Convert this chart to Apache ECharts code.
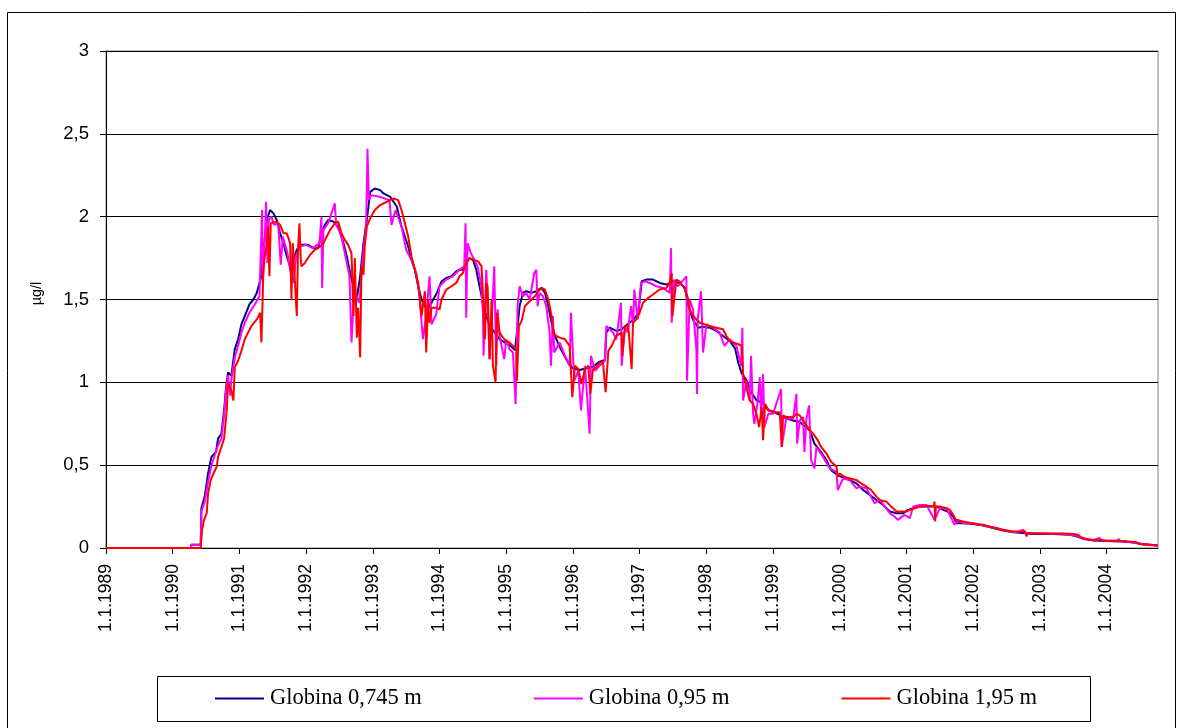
<!DOCTYPE html>
<html>
<head>
<meta charset="utf-8">
<script src="https://cdn.jsdelivr.net/npm/echarts@6/dist/echarts.min.js"></script>
<style>
html,body{margin:0;padding:0;background:#fff;}
#chart{width:1183px;height:728px;}
</style>
</head>
<body>
<div id="chart"></div>
<script>
// Series names
const seriesNames = ['Globina 0,745 m', 'Globina 0,95 m', 'Globina 1,95 m'];
// x ticks (years), labels shown as "1.1.YYYY"
const yearTicks = [1989,1990,1991,1992,1993,1994,1995,1996,1997,1998,1999,2000,2001,2002,2003,2004];
// y tick labels
const yTicks = [0, 0.5, 1, 1.5, 2, 2.5, 3];

// [decimal year, µg/l]
const depth0745 = [
[1989.00,0],[1990.27,0],[1990.28,0.02],[1990.42,0.02],[1990.43,0.24],[1990.48,0.31],[1990.53,0.45],[1990.58,0.55],[1990.65,0.58],[1990.68,0.66],[1990.73,0.69],[1990.77,0.83],[1990.80,0.97],[1990.83,1.06],[1990.88,1.04],[1990.93,1.20],[1990.98,1.26],[1991.03,1.35],[1991.08,1.40],[1991.15,1.47],[1991.21,1.50],[1991.26,1.54],[1991.33,1.64],[1991.36,1.80],[1991.41,1.98],[1991.46,2.04],[1991.51,2.02],[1991.56,1.98],[1991.61,1.90],[1991.66,1.84],[1991.71,1.76],[1991.76,1.70],[1991.81,1.74],[1991.86,1.80],[1991.91,1.83],[1992.03,1.83],[1992.11,1.81],[1992.18,1.81],[1992.23,1.90],[1992.28,1.95],[1992.33,1.98],[1992.41,1.97],[1992.48,1.94],[1992.56,1.84],[1992.61,1.76],[1992.66,1.66],[1992.71,1.58],[1992.75,1.48],[1992.81,1.64],[1992.86,1.84],[1992.91,1.98],[1992.96,2.15],[1993.03,2.17],[1993.11,2.16],[1993.16,2.14],[1993.26,2.12],[1993.36,2.06],[1993.43,1.94],[1993.48,1.88],[1993.53,1.82],[1993.58,1.74],[1993.63,1.68],[1993.68,1.58],[1993.73,1.50],[1993.81,1.44],[1993.88,1.48],[1993.96,1.54],[1994.03,1.61],[1994.10,1.63],[1994.18,1.64],[1994.25,1.67],[1994.30,1.68],[1994.35,1.68],[1994.40,1.72],[1994.45,1.75],[1994.50,1.74],[1994.55,1.68],[1994.60,1.58],[1994.65,1.48],[1994.70,1.40],[1994.75,1.34],[1994.83,1.30],[1994.90,1.26],[1995.00,1.235],[1995.08,1.215],[1995.13,1.195],[1995.16,1.30],[1995.20,1.46],[1995.25,1.54],[1995.30,1.55],[1995.38,1.54],[1995.45,1.55],[1995.53,1.57],[1995.58,1.54],[1995.63,1.46],[1995.68,1.36],[1995.73,1.28],[1995.80,1.215],[1995.88,1.155],[1995.95,1.105],[1996.00,1.085],[1996.10,1.075],[1996.20,1.085],[1996.30,1.095],[1996.40,1.125],[1996.48,1.135],[1996.50,1.30],[1996.55,1.33],[1996.65,1.31],[1996.73,1.32],[1996.80,1.345],[1996.90,1.376],[1996.98,1.416],[1997.03,1.61],[1997.10,1.62],[1997.20,1.62],[1997.30,1.60],[1997.40,1.59],[1997.50,1.61],[1997.60,1.60],[1997.68,1.57],[1997.73,1.46],[1997.80,1.376],[1997.88,1.33],[1997.95,1.336],[1998.05,1.33],[1998.15,1.31],[1998.25,1.28],[1998.35,1.25],[1998.43,1.205],[1998.48,1.115],[1998.53,1.054],[1998.60,1.014],[1998.68,0.934],[1998.75,0.893],[1998.85,0.873],[1998.93,0.833],[1999.00,0.823],[1999.10,0.803],[1999.20,0.783],[1999.30,0.77],[1999.40,0.76],[1999.55,0.71],[1999.62,0.63],[1999.70,0.59],[1999.80,0.53],[1999.87,0.47],[1999.97,0.44],[2000.07,0.42],[2000.15,0.41],[2000.25,0.39],[2000.35,0.35],[2000.45,0.32],[2000.55,0.29],[2000.65,0.26],[2000.75,0.22],[2000.85,0.21],[2000.95,0.21],[2001.02,0.23],[2001.10,0.24],[2001.20,0.25],[2001.30,0.25],[2001.45,0.25],[2001.55,0.23],[2001.62,0.22],[2001.70,0.19],[2001.75,0.15],[2001.85,0.15],[2002.00,0.145],[2002.15,0.135],[2002.30,0.12],[2002.45,0.105],[2002.60,0.095],[2002.75,0.09],[2002.90,0.085],[2003.20,0.085],[2003.45,0.08],[2003.55,0.07],[2003.65,0.055],[2003.80,0.045],[2004.00,0.042],[2004.30,0.038],[2004.47,0.03],[2004.55,0.022],[2004.77,0.015]
];

const depth095 = [
[1989.00,0],[1990.27,0],[1990.28,0.02],[1990.42,0.02],[1990.43,0.22],[1990.48,0.28],[1990.53,0.40],[1990.58,0.50],[1990.63,0.56],[1990.68,0.62],[1990.73,0.66],[1990.77,0.80],[1990.80,0.95],[1990.83,1.04],[1990.86,0.92],[1990.88,1.02],[1990.93,1.15],[1990.98,1.22],[1991.03,1.30],[1991.08,1.36],[1991.15,1.42],[1991.23,1.47],[1991.30,1.52],[1991.34,2.04],[1991.35,1.60],[1991.38,1.85],[1991.40,2.09],[1991.42,1.72],[1991.44,1.98],[1991.48,2.00],[1991.52,1.95],[1991.58,1.96],[1991.62,1.71],[1991.65,1.88],[1991.72,1.78],[1991.76,1.68],[1991.81,1.60],[1991.85,1.76],[1991.90,1.82],[1992.00,1.83],[1992.10,1.81],[1992.20,1.84],[1992.23,2.00],[1992.24,1.57],[1992.26,1.92],[1992.33,1.96],[1992.43,2.08],[1992.45,1.95],[1992.52,1.90],[1992.58,1.78],[1992.65,1.64],[1992.68,1.24],[1992.72,1.56],[1992.80,1.48],[1992.85,1.76],[1992.90,1.95],[1992.92,2.41],[1992.94,2.10],[1992.98,2.13],[1993.10,2.12],[1993.25,2.10],[1993.28,1.95],[1993.34,2.04],[1993.43,1.94],[1993.50,1.80],[1993.60,1.72],[1993.65,1.66],[1993.70,1.52],[1993.75,1.26],[1993.80,1.40],[1993.85,1.64],[1993.88,1.35],[1993.95,1.41],[1994.00,1.58],[1994.10,1.62],[1994.20,1.64],[1994.30,1.68],[1994.37,1.70],[1994.39,1.96],[1994.40,1.39],[1994.42,1.84],[1994.47,1.78],[1994.52,1.74],[1994.57,1.70],[1994.62,1.60],[1994.65,1.42],[1994.66,1.16],[1994.70,1.68],[1994.72,1.50],[1994.75,1.14],[1994.79,1.44],[1994.82,1.70],[1994.85,1.10],[1994.87,1.44],[1994.90,1.28],[1994.97,1.14],[1995.00,1.26],[1995.05,1.20],[1995.10,1.18],[1995.14,0.87],[1995.17,1.46],[1995.20,1.58],[1995.25,1.52],[1995.30,1.54],[1995.35,1.50],[1995.42,1.66],[1995.45,1.68],[1995.47,1.46],[1995.50,1.54],[1995.55,1.52],[1995.60,1.46],[1995.65,1.30],[1995.67,1.10],[1995.70,1.40],[1995.72,1.18],[1995.80,1.24],[1995.88,1.16],[1995.95,1.10],[1995.97,1.42],[1996.02,1.01],[1996.08,1.07],[1996.12,0.83],[1996.18,1.10],[1996.25,0.69],[1996.27,1.16],[1996.33,1.07],[1996.40,1.10],[1996.48,1.13],[1996.50,1.34],[1996.55,1.32],[1996.60,1.30],[1996.65,1.26],[1996.72,1.48],[1996.73,1.10],[1996.78,1.34],[1996.82,1.30],[1996.87,1.46],[1996.90,1.34],[1996.92,1.56],[1996.97,1.38],[1997.02,1.60],[1997.08,1.61],[1997.15,1.60],[1997.25,1.58],[1997.35,1.57],[1997.45,1.54],[1997.47,1.81],[1997.48,1.36],[1997.52,1.62],[1997.57,1.58],[1997.62,1.60],[1997.70,1.64],[1997.71,1.01],[1997.75,1.50],[1997.80,1.44],[1997.85,1.20],[1997.86,0.93],[1997.87,1.38],[1997.92,1.55],[1997.95,1.18],[1998.00,1.35],[1998.10,1.33],[1998.20,1.30],[1998.27,1.22],[1998.35,1.26],[1998.45,1.22],[1998.52,1.10],[1998.54,1.33],[1998.55,0.89],[1998.60,1.01],[1998.65,0.89],[1998.67,1.16],[1998.70,0.81],[1998.72,0.75],[1998.77,0.89],[1998.80,1.03],[1998.82,0.81],[1998.85,1.05],[1998.87,0.73],[1998.93,0.81],[1999.00,0.81],[1999.12,0.96],[1999.13,0.61],[1999.20,0.79],[1999.25,0.78],[1999.30,0.78],[1999.35,0.93],[1999.36,0.63],[1999.40,0.77],[1999.45,0.79],[1999.47,0.58],[1999.50,0.78],[1999.54,0.86],[1999.57,0.53],[1999.62,0.48],[1999.65,0.61],[1999.75,0.55],[1999.85,0.48],[1999.95,0.46],[1999.97,0.35],[2000.05,0.42],[2000.15,0.41],[2000.25,0.36],[2000.30,0.37],[2000.40,0.36],[2000.52,0.27],[2000.60,0.29],[2000.75,0.21],[2000.82,0.19],[2000.87,0.17],[2000.97,0.20],[2001.05,0.18],[2001.10,0.25],[2001.20,0.26],[2001.30,0.26],[2001.42,0.17],[2001.50,0.24],[2001.60,0.24],[2001.72,0.14],[2001.77,0.17],[2001.85,0.15],[2002.00,0.15],[2002.10,0.14],[2002.30,0.125],[2002.45,0.11],[2002.55,0.10],[2002.65,0.095],[2002.75,0.11],[2002.78,0.09],[2003.10,0.087],[2003.35,0.085],[2003.55,0.075],[2003.62,0.06],[2003.80,0.048],[2003.90,0.06],[2003.92,0.046],[2004.15,0.044],[2004.18,0.055],[2004.20,0.042],[2004.47,0.03],[2004.55,0.02],[2004.77,0.015]
];

const depth195 = [
[1989.00,0],[1990.42,0],[1990.44,0.11],[1990.47,0.17],[1990.51,0.21],[1990.53,0.33],[1990.57,0.41],[1990.61,0.45],[1990.66,0.49],[1990.68,0.55],[1990.73,0.61],[1990.77,0.66],[1990.81,0.83],[1990.83,1.0],[1990.88,0.95],[1990.91,0.89],[1990.93,1.09],[1990.98,1.13],[1991.03,1.19],[1991.08,1.26],[1991.13,1.30],[1991.18,1.34],[1991.26,1.38],[1991.31,1.42],[1991.33,1.24],[1991.36,1.68],[1991.38,1.76],[1991.41,1.83],[1991.43,1.94],[1991.45,1.64],[1991.47,1.96],[1991.56,1.97],[1991.61,1.95],[1991.66,1.90],[1991.71,1.90],[1991.76,1.84],[1991.78,1.50],[1991.80,1.84],[1991.86,1.40],[1991.88,1.82],[1991.90,1.96],[1991.92,1.74],[1991.93,1.70],[1991.98,1.72],[1992.06,1.77],[1992.13,1.80],[1992.21,1.82],[1992.26,1.84],[1992.31,1.88],[1992.36,1.92],[1992.43,1.96],[1992.48,1.97],[1992.53,1.90],[1992.58,1.86],[1992.63,1.83],[1992.68,1.78],[1992.71,1.40],[1992.73,1.75],[1992.76,1.27],[1992.78,1.45],[1992.81,1.15],[1992.83,1.70],[1992.86,1.65],[1992.88,1.83],[1992.91,1.94],[1992.96,1.99],[1993.03,2.04],[1993.11,2.07],[1993.21,2.09],[1993.31,2.11],[1993.38,2.10],[1993.43,2.04],[1993.48,1.96],[1993.53,1.88],[1993.58,1.76],[1993.63,1.68],[1993.68,1.60],[1993.73,1.40],[1993.78,1.55],[1993.80,1.18],[1993.83,1.50],[1993.85,1.36],[1993.88,1.45],[1993.95,1.45],[1994.00,1.44],[1994.03,1.50],[1994.10,1.56],[1994.18,1.58],[1994.25,1.60],[1994.30,1.64],[1994.35,1.66],[1994.40,1.72],[1994.45,1.75],[1994.50,1.74],[1994.58,1.73],[1994.63,1.70],[1994.68,1.26],[1994.70,1.60],[1994.72,1.58],[1994.75,1.14],[1994.78,1.50],[1994.80,1.10],[1994.84,1.00],[1994.86,1.42],[1994.90,1.30],[1994.95,1.27],[1995.00,1.25],[1995.05,1.24],[1995.10,1.22],[1995.15,1.20],[1995.16,1.01],[1995.19,1.34],[1995.23,1.37],[1995.28,1.46],[1995.33,1.48],[1995.38,1.50],[1995.43,1.52],[1995.48,1.55],[1995.53,1.57],[1995.58,1.56],[1995.63,1.50],[1995.68,1.40],[1995.70,1.30],[1995.75,1.28],[1995.80,1.27],[1995.88,1.26],[1995.95,1.22],[1995.99,0.91],[1996.03,1.10],[1996.08,1.08],[1996.13,0.99],[1996.18,1.08],[1996.23,1.10],[1996.26,0.93],[1996.30,1.08],[1996.35,1.09],[1996.40,1.12],[1996.45,1.12],[1996.49,0.94],[1996.53,1.19],[1996.58,1.22],[1996.65,1.28],[1996.73,1.30],[1996.74,1.16],[1996.78,1.34],[1996.83,1.34],[1996.88,1.08],[1996.90,1.36],[1996.95,1.38],[1997.00,1.42],[1997.05,1.48],[1997.13,1.51],[1997.20,1.53],[1997.30,1.56],[1997.40,1.57],[1997.45,1.60],[1997.48,1.66],[1997.49,1.40],[1997.55,1.62],[1997.60,1.61],[1997.68,1.56],[1997.73,1.50],[1997.75,1.44],[1997.80,1.40],[1997.85,1.38],[1997.90,1.36],[1997.98,1.35],[1998.05,1.34],[1998.15,1.33],[1998.25,1.32],[1998.30,1.28],[1998.35,1.25],[1998.40,1.24],[1998.48,1.23],[1998.53,1.22],[1998.55,1.05],[1998.60,0.97],[1998.65,0.89],[1998.70,0.87],[1998.75,0.81],[1998.79,0.73],[1998.83,0.85],[1998.85,0.65],[1998.88,0.87],[1998.93,0.83],[1999.00,0.82],[1999.10,0.82],[1999.13,0.61],[1999.15,0.80],[1999.20,0.79],[1999.30,0.79],[1999.35,0.81],[1999.40,0.80],[1999.45,0.77],[1999.50,0.74],[1999.55,0.71],[1999.60,0.69],[1999.67,0.65],[1999.72,0.61],[1999.80,0.57],[1999.87,0.52],[1999.95,0.49],[1999.97,0.43],[2000.00,0.45],[2000.07,0.43],[2000.15,0.42],[2000.25,0.41],[2000.32,0.39],[2000.40,0.37],[2000.47,0.35],[2000.55,0.31],[2000.60,0.29],[2000.70,0.28],[2000.77,0.25],[2000.85,0.22],[2001.00,0.22],[2001.05,0.23],[2001.12,0.24],[2001.20,0.25],[2001.32,0.254],[2001.41,0.254],[2001.42,0.28],[2001.43,0.16],[2001.44,0.25],[2001.50,0.25],[2001.60,0.24],[2001.65,0.23],[2001.70,0.20],[2001.74,0.17],[2001.85,0.16],[2001.95,0.153],[2002.05,0.145],[2002.15,0.14],[2002.25,0.129],[2002.35,0.119],[2002.45,0.109],[2002.55,0.103],[2002.65,0.099],[2002.78,0.099],[2002.80,0.07],[2002.82,0.09],[2002.90,0.088],[2003.35,0.088],[2003.50,0.085],[2003.57,0.08],[2003.62,0.064],[2003.70,0.052],[2003.80,0.048],[2003.90,0.048],[2004.00,0.044],[2004.10,0.044],[2004.30,0.04],[2004.44,0.036],[2004.48,0.024],[2004.60,0.022],[2004.70,0.018],[2004.77,0.014]
];

const colors = ['#000080', '#FF00FF', '#FF0000'];

const chart = echarts.init(document.getElementById('chart'), null, {renderer: 'canvas'});
chart.setOption({
  animation: false,
  backgroundColor: '#ffffff',
  grid: {
    left: 106, right: 25, top: 51, bottom: 180,
    show: true, borderColor: '#808080', borderWidth: 1, backgroundColor: 'transparent'
  },
  legend: {
    left: 215, top: 687, padding: 0,
    icon: 'rect', itemWidth: 49, itemHeight: 2, itemGap: 112,
    textStyle: {fontFamily: 'Liberation Serif', fontSize: 22.5, color: '#000', padding: [0, 0, 0, 1]},
    data: seriesNames
  },
  graphic: [
    {type: 'rect', silent: true, shape: {x: 7.5, y: 12.5, width: 1168, height: 740},
     style: {fill: 'none', stroke: '#000', lineWidth: 1}},
    {type: 'rect', silent: true, shape: {x: 157.5, y: 676.5, width: 933, height: 45},
     style: {fill: 'none', stroke: '#000', lineWidth: 1}}
  ],
  xAxis: {
    type: 'value',
    min: yearTicks[0], max: 2004.77, interval: 1,
    axisLine: {show: true, lineStyle: {color: '#000', width: 1}},
    axisTick: {show: true, inside: false, length: 6, lineStyle: {color: '#000'}},
    splitLine: {show: false},
    axisLabel: {
      rotate: 90, margin: 16, color: '#000',
      fontFamily: 'Liberation Sans', fontSize: 17.5,
      showMaxLabel: false,
      formatter: function (v) {
        return yearTicks.indexOf(Math.round(v)) >= 0 && Math.abs(v - Math.round(v)) < 1e-6 ? '1.1.' + Math.round(v) : '';
      }
    }
  },
  yAxis: {
    type: 'value',
    min: yTicks[0], max: yTicks[yTicks.length - 1], interval: 0.5,
    name: 'µg/l', nameLocation: 'middle', nameGap: 62, nameRotate: 90,
    nameTextStyle: {fontFamily: 'Liberation Sans', fontSize: 14.5, color: '#000', padding: [0, 0, 0, 12]},
    axisLine: {show: true, lineStyle: {color: '#000', width: 1}},
    axisTick: {show: true, inside: false, length: 6, lineStyle: {color: '#000'}},
    splitLine: {show: true, lineStyle: {color: '#000', width: 1}},
    axisLabel: {
      margin: 17, color: '#000', fontFamily: 'Liberation Sans', fontSize: 18.5,
      formatter: function (v) { return String(v).replace('.', ','); }
    }
  },
  series: [
    {name: seriesNames[0], type: 'line', data: depth0745, symbol: 'none', showSymbol: false,
     lineStyle: {color: colors[0], width: 2}, itemStyle: {color: colors[0]}, z: 2},
    {name: seriesNames[1], type: 'line', data: depth095, symbol: 'none', showSymbol: false,
     lineStyle: {color: colors[1], width: 2}, itemStyle: {color: colors[1]}, z: 3},
    {name: seriesNames[2], type: 'line', data: depth195, symbol: 'none', showSymbol: false,
     lineStyle: {color: colors[2], width: 2}, itemStyle: {color: colors[2]}, z: 4}
  ]
});
</script>
</body>
</html>
